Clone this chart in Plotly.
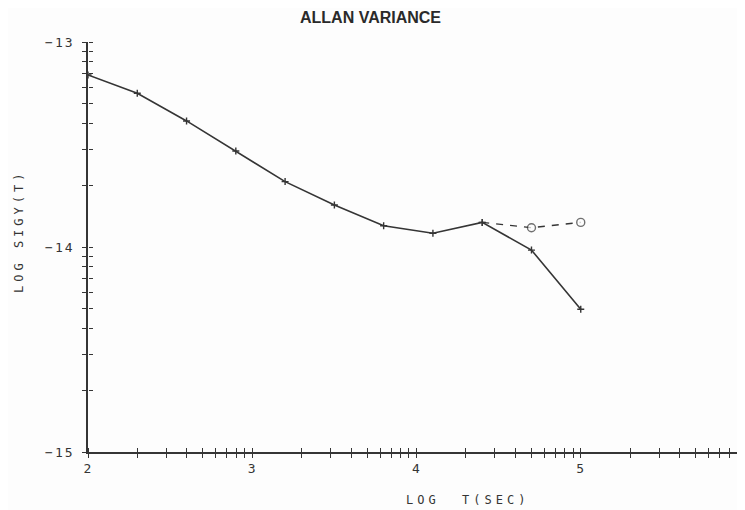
import math
import plotly.graph_objects as go

# ---- data ----
log_t = [2.0, 2.3, 2.6, 2.9, 3.2, 3.5, 3.8, 4.1, 4.4, 4.7, 5.0]
log_sigy = [-13.161, -13.250, -13.385, -13.532, -13.681, -13.795,
            -13.896, -13.933, -13.880, -14.015, -14.304]
alt_log_t = [4.4, 4.7, 5.0]
alt_log_sigy = [-13.880, -13.906, -13.880]

x_major = [2, 3, 4, 5, 6]
x_major_text = ["2", "3", "4", "5", "6"]
y_major = [-15, -14, -13]
y_major_text = ["\u221215", "\u221214", "\u221213"]

INK = "#353535"
BG = "#fdfdfd"
PLOT_FONT = "DejaVu Sans Mono"


def spaced(s, px=2):
    return f'<span style="letter-spacing:{px}px">{s}</span>'


# log-cycle tick positions generated by the axis definition
x_ticks = list(x_major)
x_text = [spaced(t, 1) for t in x_major_text]
for d in x_major[:-1]:
    for k in range(2, 10):
        x_ticks.append(d + math.log10(k))
        x_text.append("")

y_ticks = list(y_major)
y_text = [spaced(t, 2) for t in y_major_text]
for d in y_major[:-1]:
    for k in range(2, 10):
        y_ticks.append(d + math.log10(k))
        y_text.append("")

fig = go.Figure()

fig.add_trace(go.Scatter(
    x=log_t, y=log_sigy, mode="lines+markers",
    line=dict(color=INK, width=1.6),
    marker=dict(symbol="cross-thin", size=5, line=dict(color=INK, width=1.4)),
    showlegend=False, hoverinfo="skip"))

# second series drawn on the overlay axes (same ranges) so they get rendered
fig.add_trace(go.Scatter(
    x=alt_log_t, y=alt_log_sigy, mode="lines+markers",
    xaxis="x2", yaxis="y2",
    line=dict(color=INK, width=1.4, dash="7px,7px"),
    marker=dict(symbol=["cross-thin", "circle", "circle"],
                size=[5, 8, 8], color=BG,
                line=dict(color=INK, width=1.4)),
    showlegend=False, hoverinfo="skip"))

axis_common = dict(showgrid=False, zeroline=False,
                   linecolor=INK, linewidth=1.6, tickcolor=INK,
                   tickwidth=1.3, ticklen=4, tickmode="array",
                   automargin=False,
                   tickfont=dict(family=PLOT_FONT, size=13, color=INK))

# page body has an 8px margin; compensate so the plot sits where the reference does
L, R, T, B = 80, 8, 34, 66
PW = 745 - L - R
PH = 510 - T - B

fig.update_layout(
    width=745, height=510,
    margin=dict(l=L, r=R, t=T, b=B),
    paper_bgcolor=BG, plot_bgcolor=BG,
    xaxis=dict(range=[2, 6], tickvals=x_ticks, ticktext=x_text,
               ticks="outside", ticklabelstandoff=0, showline=True,
               **axis_common),
    yaxis=dict(range=[-15, -13], tickvals=y_ticks, ticktext=y_text,
               ticks="outside", ticklabelstandoff=5, showline=True,
               **axis_common),
    # overlay axes placed on the same lines, ticks pointing into the plot
    xaxis2=dict(range=[2, 6], overlaying="x", anchor="free", position=0,
                side="top", tickvals=x_ticks, ticks="outside",
                showticklabels=False, showline=False, **axis_common),
    yaxis2=dict(range=[-15, -13], overlaying="y", anchor="free", position=0,
                side="right", tickvals=y_ticks, ticks="outside",
                showticklabels=False, showline=False, **axis_common),
    annotations=[
        dict(text="<b>ALLAN VARIANCE</b>", xref="paper", yref="paper",
             x=(370 - 88) / PW, y=1 + (42 - 18) / PH, showarrow=False,
             xanchor="center", yanchor="middle",
             font=dict(family="Liberation Sans", size=16, color="#2a2a2a")),
        dict(text=spaced("LOG  T(SEC)", 4), xref="paper", yref="paper",
             x=(467 - 88) / PW, y=-(500 - 452) / PH, showarrow=False,
             xanchor="center", yanchor="middle",
             font=dict(family=PLOT_FONT, size=12, color=INK)),
        dict(text=spaced("LOG SIGY(T)", 4), xref="paper", yref="paper",
             x=-(88 - 19) / PW, y=(452 - 232) / PH, showarrow=False,
             textangle=-90, xanchor="center", yanchor="middle",
             font=dict(family=PLOT_FONT, size=12, color=INK)),
    ],
)

fig.write_html("out.html")
